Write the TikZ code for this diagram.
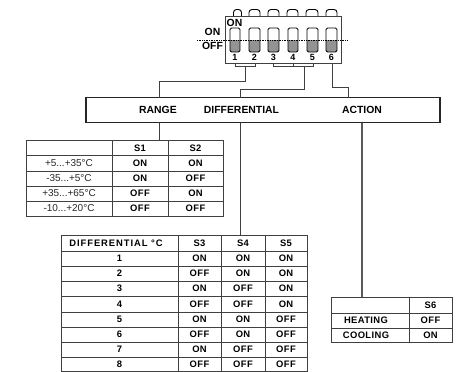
\documentclass[tikz,border=0pt]{standalone}
\usepackage{fontspec}
\setmainfont{Liberation Sans}
\definecolor{ln}{gray}{0.25}
\newcommand\ddd{...}
\tikzset{
  cell/.style={font=\fontsize{9.4}{10}\selectfont\bfseries\addfontfeatures{LetterSpace=4},text=black,inner sep=0pt,anchor=center},
  wide/.style={font=\fontsize{9.4}{10}\selectfont\bfseries\addfontfeatures{LetterSpace=10},text=black,inner sep=0pt,anchor=center},
  plain/.style={font=\fontsize{10}{11}\selectfont,text=black!85,inner sep=0pt,anchor=center},
  grid/.style={draw=ln,line width=1pt},
  wire/.style={draw=ln,line width=1pt},
  body/.style={draw=ln,line width=1pt,fill=white},
  slot/.style={draw=black,line width=0.9pt,rounded corners=1.5pt,fill=white},
  bump/.style={draw=black,line width=0.9pt,rounded corners=3pt,fill=white},
  lab/.style={font=\fontsize{10.4}{11}\selectfont\bfseries,text=black,inner sep=0pt},
  num/.style={font=\fontsize{9}{10}\selectfont\bfseries,text=black,inner sep=0pt},
}
\begin{document}
\begin{tikzpicture}[x=1pt,y=-1pt]
\useasboundingbox (0,0) rectangle (456,372);
% top bumps
\foreach \a/\b in {233.5/241.5,249/260,268/279,287/298,306/318,326/337}{
  \draw[bump] (\a,16) -- (\a,9.5) -- (\b,9.5) -- (\b,16);
}
% body
\node[body,minimum width=116pt,minimum height=47pt,inner sep=0pt] (dip) at (283,39.5) {};
% slots
\foreach \a/\b [count=\i] in {230/240,249/260,268/279,288/298,307/318,326/337}{
  \fill[gray!85] (\a,40) rectangle (\b,52);
  \draw[slot,fill=none] (\a,28) rectangle (\b,52);
  \node[num] (n\i) at ({(\a+\b)/2},57.5) {\i};
}
\draw[densely dotted,line width=0.7pt,black] (197,40) -- (347,40);
\node[lab] (onout) at (212.5,32) {ON};
\node[lab] (offout) at (212.5,46) {OFF};
\node[lab,anchor=west] (onin) at (226.5,22.5) {ON};
% main box
\node[draw=black!85,line width=1.5pt,minimum width=354pt,minimum height=25pt,inner sep=0pt] (main) at (263,110) {};
\node[lab] (range) at (158,110) {RANGE};
\node[lab] (diff) at (241.5,110) {DIFFERENTIAL};
\node[lab] (action) at (362,110) {ACTION};
% brackets and wires
\coordinate (b1) at (235,66); \coordinate (b2) at (255,66);
\coordinate (b3) at (273,66); \coordinate (b4) at (293,66); \coordinate (b5) at (313,66);
\draw[wire] (235,63) -- (b1) -- (b2) -- (255,63);
\draw[wire] (273,63) -- (b3) -- (b5) -- (313,63);
\draw[wire] (b4) -- (293,63);
\draw[wire] (245,66) |- (159,81) -- (159,97.5);
\draw[wire] (304,66) |- (240,89) -- (240,97.5);
\draw[wire] (332,63) |- (348,87) -- (348,97.5);
\draw[wire] (159,122.5) -- (159,140);
\draw[wire] (240.5,122.5) -- (240.5,235);
\draw[draw=black!65,line width=1.3pt] (362,122.5) -- (362,297);
% table 1
\draw[grid] (26.5,140) rectangle (223,216);
\foreach \y in {155,171,186,201} \draw[grid] (26.5,\y) -- (223,\y);
\foreach \x in {112,168} \draw[grid] (\x,140) -- (\x,216);
\node[cell] at (140,148) {S1};
\node[cell] at (195.5,148) {S2};
\foreach \y/\t/\p/\q in {163/+5\ddd+35°C/ON/ON,178.5/-35\ddd+5°C/ON/OFF,193.5/+35\ddd+65°C/OFF/ON,208.5/-10\ddd+20°C/OFF/OFF}{
  \node[plain] at (69,\y) {\t};
  \node[cell] at (140,\y) {\p};
  \node[cell] at (195.5,\y) {\q};
}
% table 2
\draw[grid] (61,235) rectangle (307,371.5);
\foreach \y in {251,266,281,296,312,327,342,357} \draw[grid] (61,\y) -- (307,\y);
\foreach \x in {178,221,265} \draw[grid] (\x,235) -- (\x,371.5);
\node[wide] at (116,243.5) {DIFFERENTIAL °C};
\node[cell] at (199.5,243.5) {S3};
\node[cell] at (243,243.5) {S4};
\node[cell] at (286,243.5) {S5};
\foreach \y/\t/\p/\q/\r in {258.5/1/ON/ON/ON,273.5/2/OFF/ON/ON,288.5/3/ON/OFF/ON,304/4/OFF/OFF/ON,319.5/5/ON/ON/OFF,334.5/6/OFF/ON/OFF,349.5/7/ON/OFF/OFF,364.5/8/OFF/OFF/OFF}{
  \node[cell] at (119.5,\y) {\t};
  \node[cell] at (199.5,\y) {\p};
  \node[cell] at (243,\y) {\q};
  \node[cell] at (286,\y) {\r};
}
% table 3
\draw[grid] (331,297) rectangle (452,342);
\foreach \y in {313,328} \draw[grid] (331,\y) -- (452,\y);
\draw[grid] (409,297) -- (409,342);
\node[cell] at (430.5,305) {S6};
\node[cell] at (366,320.5) {HEATING};
\node[cell] at (430.5,320.5) {OFF};
\node[cell] at (366,335) {COOLING};
\node[cell] at (430.5,335) {ON};
\end{tikzpicture}
\end{document}
